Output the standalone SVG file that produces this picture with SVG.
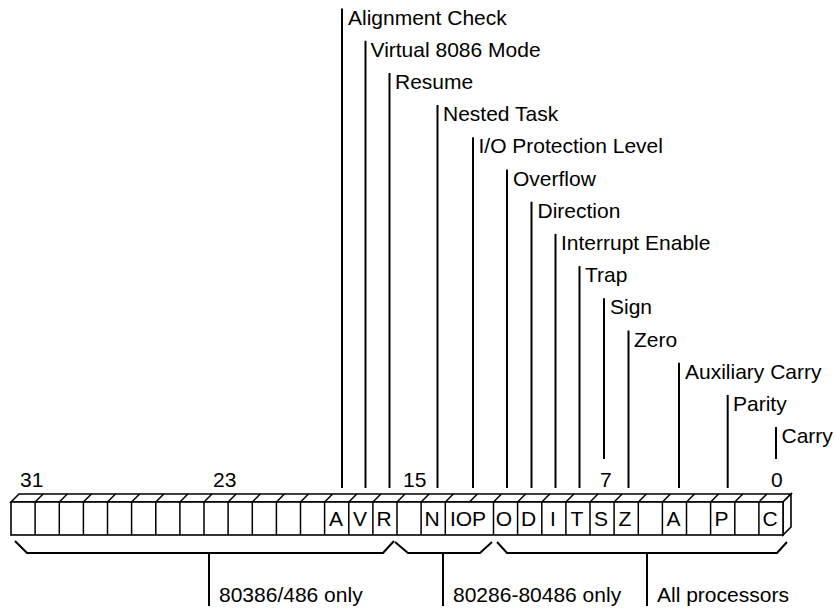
<svg xmlns="http://www.w3.org/2000/svg" width="835" height="609" viewBox="0 0 835 609">
<style>
text{font-family:"Liberation Sans",Arial,sans-serif;font-size:21px;fill:#000}
.reg{fill:#fff;stroke:#000;stroke-width:1.6;stroke-linejoin:miter}
.div{stroke:#000;stroke-width:1.5;fill:none}
.lead{stroke:#000;stroke-width:2;fill:none}
.brace{stroke:#000;stroke-width:2;fill:none;stroke-linejoin:miter}
.flag{text-anchor:middle}
</style>
<rect width="835" height="609" fill="#fff"/>
<g id="register">
  <polygon class="reg" points="11,502 19,494 791,494 783,502"/>
  <polygon class="reg" points="783,502 791,494 791,527 783,535"/>
  <rect class="reg" x="11" y="502" width="772" height="33"/>
  <path class="div" d="M35.1,502V535M59.3,502V535M83.4,502V535M107.5,502V535M131.6,502V535M155.8,502V535M179.9,502V535M204,502V535M228.1,502V535M252.3,502V535M276.4,502V535M300.5,502V535M324.6,502V535M348.8,502V535M372.9,502V535M397,502V535M421.1,502V535M445.3,502V535M493.5,502V535M517.6,502V535M541.8,502V535M565.9,502V535M590,502V535M614.1,502V535M638.3,502V535M662.4,502V535M686.5,502V535M710.6,502V535M734.8,502V535M758.9,502V535"/>
  <path class="div" d="M35.1,502l8,-8M59.3,502l8,-8M83.4,502l8,-8M107.5,502l8,-8M131.6,502l8,-8M155.8,502l8,-8M179.9,502l8,-8M204,502l8,-8M228.1,502l8,-8M252.3,502l8,-8M276.4,502l8,-8M300.5,502l8,-8M324.6,502l8,-8M348.8,502l8,-8M372.9,502l8,-8M397,502l8,-8M421.1,502l8,-8M445.3,502l8,-8M469.4,502l8,-8M493.5,502l8,-8M517.6,502l8,-8M541.8,502l8,-8M565.9,502l8,-8M590,502l8,-8M614.1,502l8,-8M638.3,502l8,-8M662.4,502l8,-8M686.5,502l8,-8M710.6,502l8,-8M734.8,502l8,-8M758.9,502l8,-8"/>
  <text class="flag" x="336" y="526">A</text>
  <text class="flag" x="360" y="526">V</text>
  <text class="flag" x="384" y="526">R</text>
  <text class="flag" x="432" y="526">N</text>
  <text class="flag" x="468" y="526">IOP</text>
  <text class="flag" x="504" y="526">O</text>
  <text class="flag" x="528.5" y="526">D</text>
  <text class="flag" x="553" y="526">I</text>
  <text class="flag" x="577" y="526">T</text>
  <text class="flag" x="601" y="526">S</text>
  <text class="flag" x="625" y="526">Z</text>
  <text class="flag" x="673.5" y="526">A</text>
  <text class="flag" x="721.5" y="526">P</text>
  <text class="flag" x="770" y="526">C</text>
</g>
<g id="bit-numbers">
  <text x="20" y="487">31</text>
  <text x="213" y="487">23</text>
  <text x="403" y="487">15</text>
  <text x="600" y="487">7</text>
  <text x="771" y="487">0</text>
</g>
<g id="connectors">
  <path class="lead" d="M342,8.5V488"/>
  <path class="lead" d="M365.5,40.7V488"/>
  <path class="lead" d="M389.5,72.9V488"/>
  <path class="lead" d="M437.5,105.1V488"/>
  <path class="lead" d="M473,137.3V488"/>
  <path class="lead" d="M507,169.5V488"/>
  <path class="lead" d="M531.5,201.7V488"/>
  <path class="lead" d="M555.5,233.9V488"/>
  <path class="lead" d="M579.5,266.1V488"/>
  <path class="lead" d="M604,298.3V459"/>
  <path class="lead" d="M628.5,330.5V488"/>
  <path class="lead" d="M679,362.7V488"/>
  <path class="lead" d="M727.7,394.9V488"/>
  <path class="lead" d="M776,427.1V459"/>
  <polyline class="brace" points="15,541 27,553 383,553 394,541"/>
  <path class="brace" d="M209,553V606"/>
  <polyline class="brace" points="395,542 408,553 480,553 492,542"/>
  <path class="brace" d="M443,553V606"/>
  <polyline class="brace" points="497,542 507,553 777,553 787,542"/>
  <path class="brace" d="M647,553V606"/>
</g>
<g id="label-ac"><text x="348" y="24.5">Alignment Check</text></g>
<g id="label-vm"><text x="370.5" y="56.7">Virtual 8086 Mode</text></g>
<g id="label-rf"><text x="395" y="88.9">Resume</text></g>
<g id="label-nt"><text x="443" y="121.1">Nested Task</text></g>
<g id="label-iopl"><text x="478.5" y="153.3">I/O Protection Level</text></g>
<g id="label-of"><text x="513" y="185.5">Overflow</text></g>
<g id="label-df"><text x="537.5" y="217.7">Direction</text></g>
<g id="label-if"><text x="561" y="249.9">Interrupt Enable</text></g>
<g id="label-tf"><text x="585" y="282.1">Trap</text></g>
<g id="label-sf"><text x="610" y="314.3">Sign</text></g>
<g id="label-zf"><text x="634" y="346.5">Zero</text></g>
<g id="label-af"><text x="685" y="378.7">Auxiliary Carry</text></g>
<g id="label-pf"><text x="733" y="410.9">Parity</text></g>
<g id="label-cf"><text x="781.5" y="443.1">Carry</text></g>
<g id="group-386"><text x="219" y="602">80386/486 only</text></g>
<g id="group-286"><text x="453" y="602">80286-80486 only</text></g>
<g id="group-all"><text x="657" y="602">All processors</text></g>
</svg>
